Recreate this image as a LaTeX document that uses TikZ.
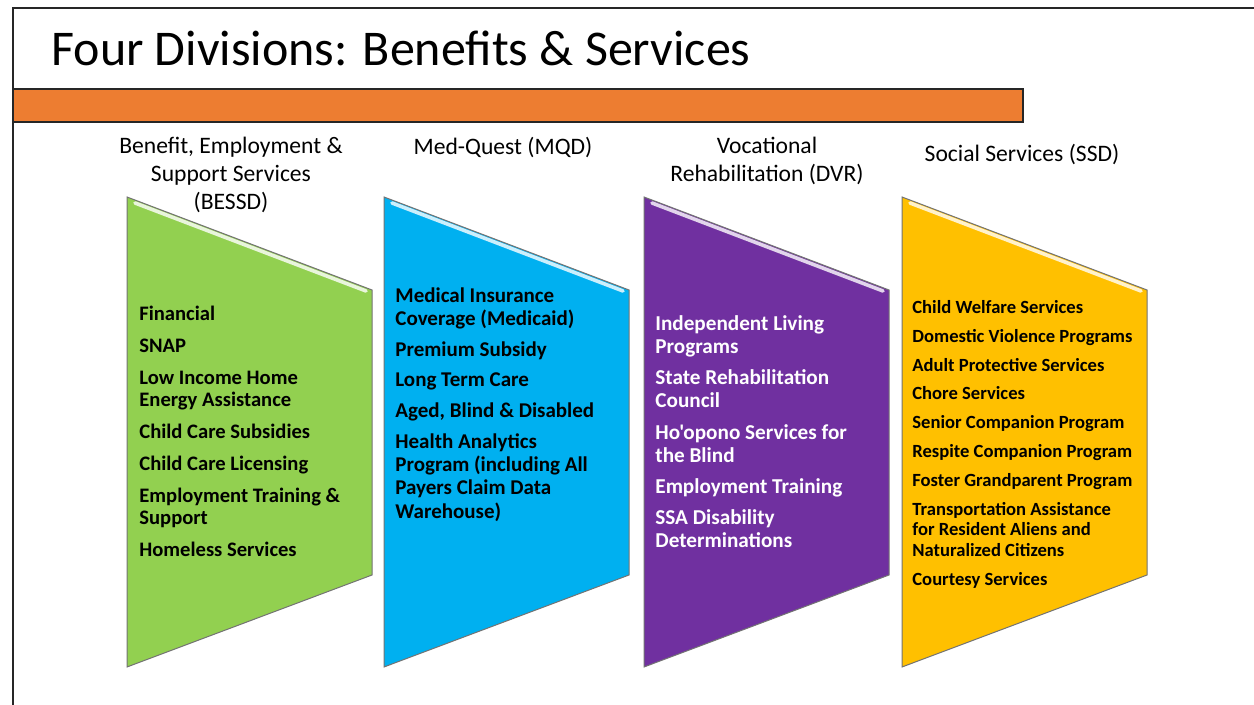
\documentclass[tikz,border=0pt]{standalone}
\usepackage{fontspec}
\newfontfamily\slidefont{Carlito}
\usetikzlibrary{positioning}
\definecolor{barorange}{HTML}{ED7D31}
\definecolor{bessdgreen}{HTML}{92D050}
\definecolor{mqdblue}{HTML}{00B0F0}
\definecolor{dvrpurple}{HTML}{7030A0}
\definecolor{ssdgold}{HTML}{FFC000}
\begin{document}
\begin{tikzpicture}[x=0.5pt,y=-0.5pt,
  panel/.style = {draw=black!55,line width=0.5pt},
  gloss/.style = {white,line width=1.8pt,opacity=0.8,line cap=round},
  head/.style = {align=center,anchor=north,inner sep=0pt,
        font=\slidefont\fontsize{11.8}{14}\selectfont},
  items/.style = {align=left,anchor=north west,inner sep=0pt,
        font=\slidefont\bfseries\fontsize{10.3}{11.1}\selectfont}]
 \useasboundingbox (0,0) rectangle (1254,705);
 % slide frame and title
 \draw[black!85,line width=0.6pt] (13,705) -- (13,8) -- (1254,8);
 \node[anchor=base west,inner sep=0pt,font=\slidefont\fontsize{25}{30}\selectfont] (title) at (51,66)
   {Four Divisions: Benefits \& Services};
 \draw[fill=barorange,draw=black!85,line width=0.8pt] (13,89) rectangle (1023,122);
 % the four panels
 \foreach \px/\pcol in {127/bessdgreen,384/mqdblue,644/dvrpurple,902/ssdgold}{
  \draw[panel,fill=\pcol] (\px,197) -- ++(245,93) -- ++(0,285) -- (\px,667) -- cycle;
  \draw[gloss] (\px+8,203) -- (\px+239,291);
 }
 % division headers
 \node[head] (bessd) at (231,137) {Benefit, Employment \&\\Support Services\\(BESSD)};
 \node[head] (mqd) at (503,137) {Med-Quest (MQD)};
 \node[head] (dvr) at (767,137) {Vocational\\Rehabilitation (DVR)};
 \node[head] (ssd) at (1022,144) {Social Services (SSD)};
 % programs
 \node[items] (bessdlist) at (139,306) {Financial\\[4.8pt]
   SNAP\\[4.8pt]
   Low Income Home\\Energy Assistance\\[4.8pt]
   Child Care Subsidies\\[4.8pt]
   Child Care Licensing\\[4.8pt]
   Employment Training \&\\Support\\[4.8pt]
   Homeless Services};
 \node[items,font=\slidefont\bfseries\fontsize{10.5}{11.6}\selectfont] (mqdlist) at (395,287)
   {Medical Insurance\\Coverage (Medicaid)\\[3.8pt]
   Premium Subsidy\\[3.8pt]
   Long Term Care\\[3.8pt]
   Aged, Blind \& Disabled\\[3.8pt]
   Health Analytics\\Program (including All\\Payers Claim Data\\Warehouse)};
 \node[items,white,font=\slidefont\bfseries\fontsize{10.6}{11.6}\selectfont] (dvrlist) at (655,315)
   {Independent Living\\Programs\\[4pt]
   State Rehabilitation\\Council\\[4pt]
   Ho'opono Services for\\the Blind\\[4pt]
   Employment Training\\[4pt]
   SSA Disability\\Determinations};
 \node[items,font=\slidefont\bfseries\fontsize{9.3}{10.4}\selectfont] (ssdlist) at (912,300)
   {Child Welfare Services\\[4pt]
   Domestic Violence Programs\\[4pt]
   Adult Protective Services\\[4pt]
   Chore Services\\[4pt]
   Senior Companion Program\\[4pt]
   Respite Companion Program\\[4pt]
   Foster Grandparent Program\\[4pt]
   Transportation Assistance\\for Resident Aliens and\\Naturalized Citizens\\[4pt]
   Courtesy Services};
\end{tikzpicture}
\end{document}
